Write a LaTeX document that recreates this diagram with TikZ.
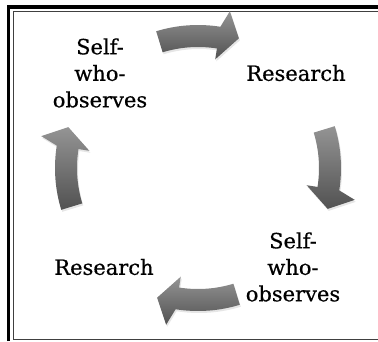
\documentclass[tikz,border=0pt]{standalone}
\usepackage{fontspec}
\setmainfont{DejaVu Serif}
\newfontfamily\labelfont{DejaVu Serif}[FakeBold=0.5]
\usetikzlibrary{shadows}

\tikzset{
  cyclearrow/.style={top color=black!42, bottom color=black!68,
    drop shadow={opacity=0.2, shadow xshift=1pt, shadow yshift=-2pt}},
  steplabel/.style={align=center, inner sep=0pt,
    font=\labelfont\fontsize{21}{26.5}\selectfont},
}

\begin{document}
\begin{tikzpicture}[x=1pt, y=1pt]
  \useasboundingbox (0,0) rectangle (378,341);

  % Frame
  \draw[line width=3.6pt] (8.6,0) |- (378,334.2);
  \draw[line width=0.8pt, black!75] (378,329.5) -| (13.2,1.5) -- (378,1.5);

  % Define nodes
  \node[steplabel] (self1) at (100,268) {Self-\\who-\\observes};%
  \node[steplabel] (res1) at (296,268) {Research};%
  \node[steplabel] (self2) at (293,74) {Self-\\who-\\observes};%
  \node[steplabel] (res2) at (104,74) {Research};%

  % Curved arrows round the cycle
  \begin{scope}[shift={(198,173)}]
    \foreach \ta/\hb/\ob/\tp in {107/81/78.5/72.5, 17/-9/-11.5/-17.5,
        -73/-99/-101.5/-107.5, -163/-189/-191.5/-197.5}
      \path[cyclearrow] (\ta:143) arc[start angle=\ta, end angle=\hb, radius=143]
        -- (\ob:160) -- (\tp:136) -- (\hb:110) -- (\hb:121)
        arc[start angle=\hb, end angle=\ta, radius=121] -- cycle;
  \end{scope}
\end{tikzpicture}
\end{document}
